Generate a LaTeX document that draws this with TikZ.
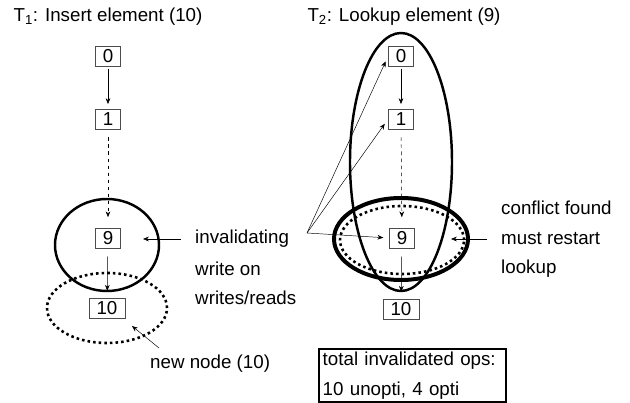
\documentclass[tikz,border=0pt]{standalone}
\usepackage{fontspec}
\setmainfont{Liberation Sans}
\usetikzlibrary{arrows.meta}

\begin{document}
\begin{tikzpicture}[x=0.03cm,y=0.03cm,>={Stealth[length=5pt,width=4pt]},
  font=\fontsize{16}{19}\selectfont,
  box/.style={draw=black!70,thin,inner xsep=6.3pt,inner ysep=0pt,minimum height=0.6cm},
  lbl/.style={inner sep=0pt,anchor=west},
  arr/.style={->,thin,shorten >=4pt,shorten <=2pt},
  dotline/.style={line width=2.2pt,dash pattern=on 2.2pt off 2.6pt}]
\useasboundingbox (0,0) rectangle (630,-403);
% T1: insert
\node (ti1) at (108,-17) {T\textsubscript{1}: Insert element (10)};
\node[box] (a0) at (108,-56) {0};
\node[box] (a1) at (108,-119) {1};
\node[box] (a9) at (108,-238) {9};
\node[box] (a10) at (107,-308) {10};
\draw[arr] (a0) -- (a1);
\draw[arr,dashed,shorten <=7pt,shorten >=9pt] (a1) -- (a9);
\draw[arr,shorten <=7pt,shorten >=6pt] (a9) -- (a10);
\draw[line width=2.1pt] (107,-245) ellipse [x radius=52,y radius=46];
\draw[dotline] (107,-308) ellipse [x radius=60,y radius=35];
\node[lbl] (inv1) at (195,-239) {invalidating};
\node[lbl] (inv2) at (195,-269) {write on};
\node[lbl] (inv3) at (195,-298) {writes/reads};
\coordinate (hitA) at (143,-239);
\draw[->,thin,shorten <=12pt] (inv1.west) -- (hitA);
\node[lbl] (new) at (150,-364) {new node (10)};
\coordinate (hitB) at (132,-326);
\coordinate (tailB) at (159,-348);
\draw[->,thin] (tailB) -- (hitB);
% T2: lookup
\node (ti2) at (404,-17) {T\textsubscript{2}: Lookup element (9)};
\node[box] (b0) at (401,-56) {0};
\node[box] (b1) at (401,-119) {1};
\node[box] (b9) at (402,-238) {9};
\node[box] (b10) at (401,-309) {10};
\draw[arr] (b0) -- (b1);
\draw[arr,dashed,shorten <=7pt,shorten >=9pt] (b1) -- (b9);
\draw[arr,shorten <=7pt,shorten >=6pt] (b9) -- (b10);
\draw[line width=2.1pt] (401,-162) ellipse [x radius=51,y radius=129];
\draw[line width=3.4pt] (401,-239) ellipse [x radius=67,y radius=41];
\draw[dotline] (402,-240) ellipse [x radius=62,y radius=34];
\coordinate (src) at (307,-233);
\foreach \b in {b0,b1,b9}
  \draw[->,thin,shorten >=5pt] (src) -- (\b.west);
\node[lbl] (cf1) at (501,-208) {conflict found};
\node[lbl] (cf2) at (501,-239) {must restart};
\node[lbl] (cf3) at (501,-269) {lookup};
\coordinate (hitC) at (451,-239);
\draw[->,thin,shorten <=12pt] (cf2.west) -- (hitC);
\node[draw,line width=2.1pt,anchor=north west,inner xsep=3pt,inner ysep=0pt,
  text width=5.4cm,minimum height=1.59cm,align=left,
  font=\fontsize{16}{25.6}\selectfont] (ops) at (318,-348)
  {total invalidated ops:\\10 unopti, 4 opti};
\end{tikzpicture}
\end{document}
